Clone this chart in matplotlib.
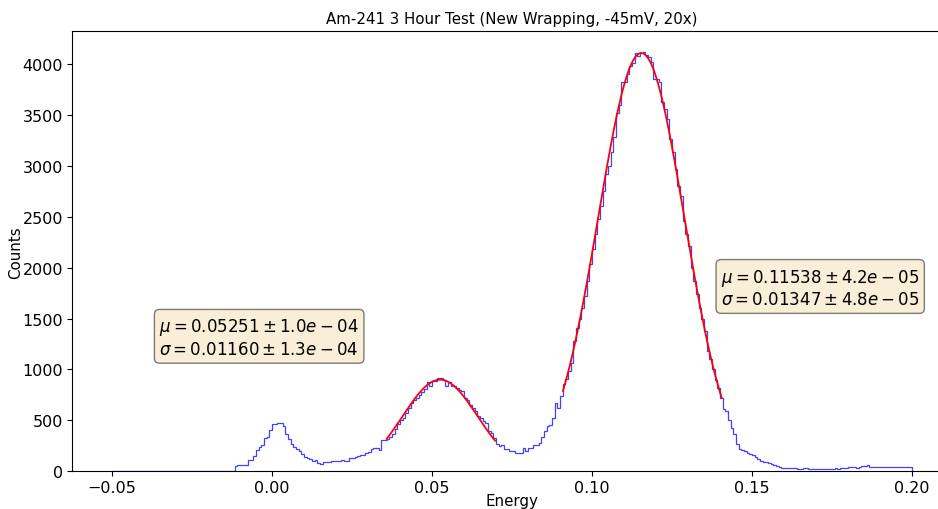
import numpy as np
import matplotlib.pyplot as plt

# histogram: 300 bins from -0.05 to 0.20 (12 bins per 0.01 row)
e_min, e_max, n_bins = -0.05, 0.20, 300
counts = [
    0, 2, 3, 0, 1, 4, 0, 2, 0, 3, 1, 0,
    2, 0, 3, 1, 0, 2, 4, 0, 1, 3, 0, 2,
    1, 3, 0, 2, 5, 0, 1, 3, 2, 0, 4, 1,
    2, 0, 3, 4, 1, 5, 3, 2, 0, 1, 52, 58,
    62, 64, 66, 108, 110, 150, 206, 240, 255, 330, 335, 403,
    462, 462, 470, 478, 445, 364, 314, 272, 239, 223, 200, 174,
    141, 134, 124, 101, 108, 85, 75, 92, 90, 95, 100, 101,
    98, 104, 111, 104, 101, 130, 134, 138, 150, 157, 160, 184,
    190, 216, 226, 226, 210, 308, 308, 321, 340, 364, 413, 462,
    500, 528, 577, 626, 675, 700, 724, 750, 774, 810, 878, 839,
    888, 888, 912, 912, 897, 839, 875, 840, 838, 816, 800, 790,
    724, 700, 650, 626, 590, 544, 520, 490, 472, 400, 380, 330,
    270, 250, 255, 216, 216, 200, 200, 177, 177, 184, 233, 200,
    225, 233, 255, 258, 275, 341, 400, 440, 452, 528, 675, 626,
    740, 860, 904, 990, 1068, 1281, 1412, 1500, 1600, 1723, 1871, 2035,
    2182, 2330, 2480, 2608, 2755, 2920, 3000, 3136, 3280, 3520, 3600, 3827,
    3827, 3900, 3985, 4010, 4109, 4077, 4109, 4122, 4090, 4066, 4023, 3853,
    3853, 3821, 3624, 3558, 3460, 3264, 3136, 2969, 2805, 2700, 2460, 2330,
    2215, 2002, 1871, 1740, 1609, 1500, 1379, 1180, 1100, 1000, 900, 820,
    724, 610, 593, 500, 430, 364, 265, 223, 210, 200, 177, 165,
    157, 140, 118, 101, 95, 88, 80, 69, 60, 52, 45, 36,
    35, 30, 32, 28, 30, 25, 22, 28, 30, 25, 24, 26,
    22, 25, 18, 22, 20, 24, 26, 28, 25, 30, 32, 35,
    38, 42, 40, 36, 38, 48, 52, 58, 46, 44, 40, 42,
    38, 40, 44, 42, 38, 45, 40, 46, 44, 42, 40, 45,
]

# gaussian fit results (mu, sigma, amplitude, fit range)
fit1_mu, fit1_mu_err = 0.05251, 1.0e-04
fit1_sigma, fit1_sigma_err = 0.01160, 1.3e-04
fit1_amp = 900
fit1_range = (0.0358, 0.0697)

fit2_mu, fit2_mu_err = 0.11538, 4.2e-05
fit2_sigma, fit2_sigma_err = 0.01347, 4.8e-05
fit2_amp = 4110
fit2_range = (0.0909, 0.1405)


def gauss(x, a, mu, sigma):
    return a * np.exp(-(x - mu) ** 2 / (2 * sigma ** 2))


edges = np.linspace(e_min, e_max, n_bins + 1)

fig, ax = plt.subplots(figsize=(9.38, 5.1), dpi=100)
# the plot runs past the right edge of the picture, as in the original
fig.subplots_adjust(left=0.0768, right=1.015, bottom=0.074, top=0.937)

ax.stairs(counts, edges, color='blue', lw=0.9, alpha=0.75)

for a, mu, sig, (lo, hi) in [(fit1_amp, fit1_mu, fit1_sigma, fit1_range),
                             (fit2_amp, fit2_mu, fit2_sigma, fit2_range)]:
    xf = np.linspace(lo, hi, 200)
    ax.plot(xf, gauss(xf, a, mu, sig), color='red', lw=1.3)

box = dict(boxstyle='round', facecolor='wheat', alpha=0.5)
txt1 = (r'$\mu = %.5f \pm %.1e$' % (fit1_mu, fit1_mu_err) + '\n' +
        r'$\sigma = %.5f \pm %.1e$' % (fit1_sigma, fit1_sigma_err))
txt2 = (r'$\mu = %.5f \pm %.1e$' % (fit2_mu, fit2_mu_err) + '\n' +
        r'$\sigma = %.5f \pm %.1e$' % (fit2_sigma, fit2_sigma_err))
ax.text(-0.0352, 1150, txt1, fontsize=12, bbox=box)
ax.text(0.1403, 1640, txt2, fontsize=12, bbox=box)

ax.set_xlim(-0.0625, 0.2125)
ax.set_ylim(0, 4325)
ax.set_title('Am-241 3 Hour Test (New Wrapping, -45mV, 20x)', fontsize=10.8, pad=6)
ax.set_xlabel('Energy', fontsize=10.8)
ax.set_ylabel('Counts', fontsize=10.8)
ax.xaxis.set_label_coords(0.5, -0.05)
ax.yaxis.set_label_coords(-0.0555, 0.5)
ax.tick_params(labelsize=11.5, pad=3)

fig.savefig('out.png')
